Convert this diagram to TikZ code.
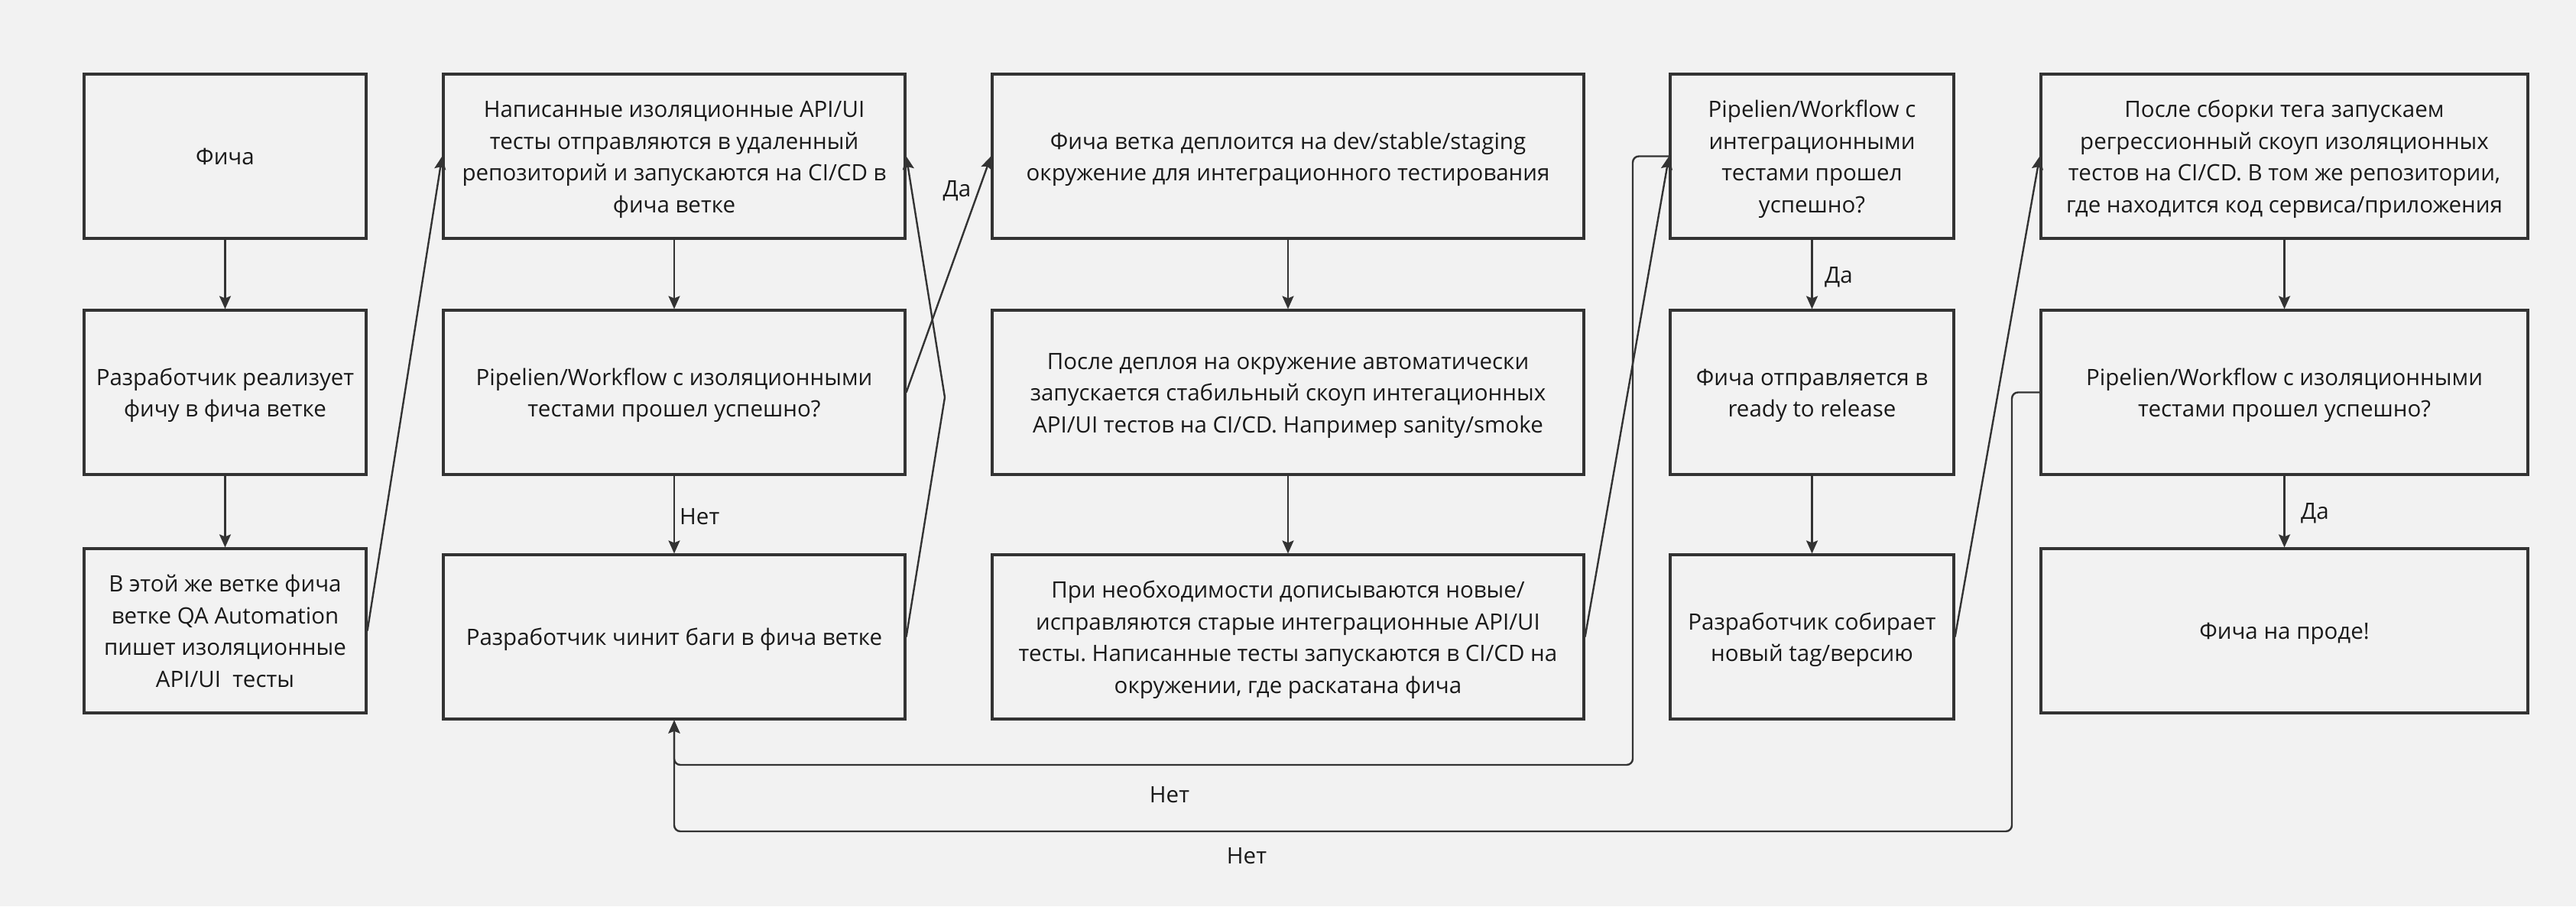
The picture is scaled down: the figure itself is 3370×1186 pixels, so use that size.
\documentclass[tikz,border=0pt]{standalone}
\usepackage{fontspec}
\setmainfont{Open Sans}
\usetikzlibrary{arrows.meta}
\definecolor{bgc}{HTML}{F2F2F2}
\definecolor{linec}{HTML}{333333}
\definecolor{txtc}{HTML}{1A1A1A}
\newcommand\ls{\rule[-9.5pt]{0pt}{41.5pt}}
\begin{document}
\begin{tikzpicture}[x=1pt,y=-1pt,
  box/.style={draw=linec, line width=3.2pt, fill=bgc, align=center, text=txtc,
    font=\fontsize{29.5}{41.5}\selectfont\frenchspacing, inner sep=0pt, minimum height=215pt},
  conn/.style={draw=linec, line width=2.4pt, -{Stealth[length=17pt,width=15pt,inset=3pt]}},
  lbl/.style={text=txtc, font=\fontsize{29.5}{41.5}\selectfont, inner sep=0pt}
]
\fill[bgc] (0,0) rectangle (3370,1186);
\useasboundingbox (0,0) rectangle (3370,1186);

% column 1
\node[box, minimum width=369pt] (A) at (294.5,204.5) {\ls Фича};
\node[box, minimum width=369pt] (B) at (294.5,513.5) {\ls Разработчик реализует\\\ls фичу в фича ветке};
\node[box, minimum width=369pt] (C) at (294.5,825.5) {\ls В этой же ветке фича\\\ls ветке QA Automation\\\ls пишет изоляционные\\\ls API/UI\ \ тесты};
% column 2
\node[box, minimum width=604pt] (D) at (882,204.5) {\ls Написанные изоляционные API/UI\\\ls тесты отправляются в удаленный\\\ls репозиторий и запускаются на CI/CD в\\\ls фича ветке};
\node[box, minimum width=604pt] (E) at (882,513.5) {\ls Pipelien/Workflow с изоляционными\\\ls тестами прошел успешно?};
\node[box, minimum width=604pt] (F) at (882,833.5) {\ls Разработчик чинит баги в фича ветке};
% column 3
\node[box, minimum width=774pt] (G) at (1685,204.5) {\ls Фича ветка деплоится на dev/stable/staging\\\ls окружение для интеграционного тестирования};
\node[box, minimum width=774pt] (H) at (1685,513.5) {\ls После деплоя на окружение автоматически\\\ls запускается стабильный скоуп интегационных\\\ls API/UI тестов на CI/CD. Например sanity/smoke};
\node[box, minimum width=774pt] (I) at (1685,833.5) {\ls При необходимости дописываются новые/\\\ls исправляются старые интеграционные API/UI\\\ls тесты. Написанные тесты запускаются в CI/CD на\\\ls окружении, где раскатана фича};
% column 4
\node[box, minimum width=371pt] (J) at (2370.5,204.5) {\ls Pipelien/Workflow с\\\ls интеграционными\\\ls тестами прошел\\\ls успешно?};
\node[box, minimum width=371pt] (K) at (2370.5,513.5) {\ls Фича отправляется в\\\ls ready to release};
\node[box, minimum width=371pt] (L) at (2370.5,833.5) {\ls Разработчик собирает\\\ls новый tag/версию};
% column 5
\node[box, minimum width=637pt] (M) at (2988.5,204.5) {\ls После сборки тега запускаем\\\ls регрессионный скоуп изоляционных\\\ls тестов на CI/CD. В том же репозитории,\\\ls где находится код сервиса/приложения};
\node[box, minimum width=637pt] (N) at (2988.5,513.5) {\ls Pipelien/Workflow с изоляционными\\\ls тестами прошел успешно?};
\node[box, minimum width=637pt] (O) at (2988.5,825.5) {\ls Фича на проде!};

% helper coordinates
\coordinate (bend) at (1236,520);
\coordinate (loopA) at (2136,1001);
\coordinate (loopB) at (2632,1088);

% connectors
\draw[conn] (A) -- (B);
\draw[conn] (B) -- (C);
\draw[conn] (C.east) -- (D.west);
\draw[conn] (D) -- (E);
\draw[conn] (E) -- (F);
\draw[conn] (E.east) -- (G.west);
\draw[conn] (F.east) -- (bend) -- (D.east);
\draw[conn] (G) -- (H);
\draw[conn] (H) -- (I);
\draw[conn] (I.east) -- (J.west);
\draw[conn] (J) -- (K);
\draw[conn] (K) -- (L);
\draw[conn] (L.east) -- (M.west);
\draw[conn] (M) -- (N);
\draw[conn] (N) -- (O);
\draw[conn, rounded corners=8pt] (J.west) -| (loopA) -| (F.south);
\draw[conn, rounded corners=8pt] (N.west) -| (loopB) -| (F.south);

% labels
\node[lbl, anchor=west] (lNet1) at (889,676) {Нет};
\node[lbl] (lDa1) at (1252,250) {Да};
\node[lbl, anchor=west] (lDa2) at (2387,363) {Да};
\node[lbl, anchor=west] (lDa3) at (3010,672) {Да};
\node[lbl] (lNet2) at (1530,1040) {Нет};
\node[lbl] (lNet3) at (1631,1120) {Нет};
\end{tikzpicture}
\end{document}
